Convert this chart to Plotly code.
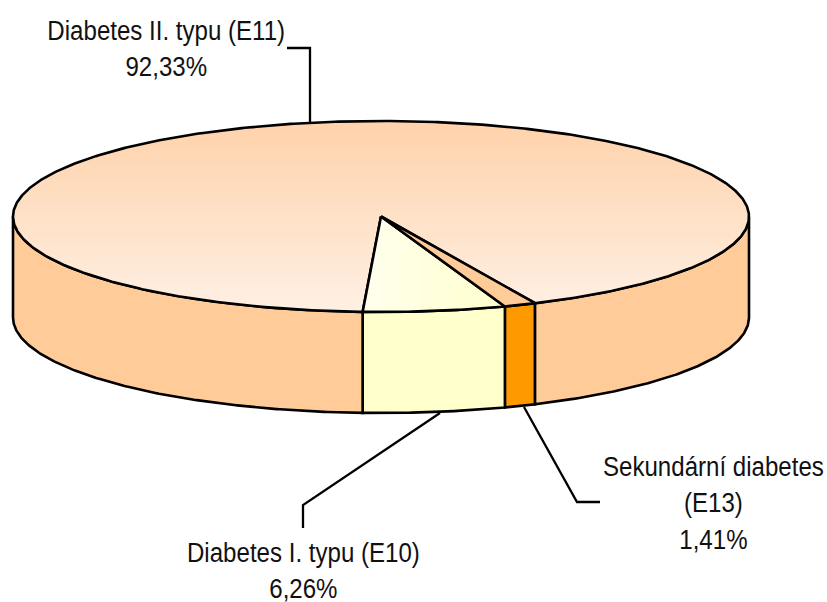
import numpy as np
import plotly.graph_objects as go

# Data, clockwise from the first slice's start angle
categories = ["Sekundární diabetes (E13)", "Diabetes I. typu (E10)", "Diabetes II. typu (E11)"]
label_lines = ["Sekundární diabetes<br>(E13)", "Diabetes I. typu (E10)", "Diabetes II. typu (E11)"]
values = [1.41, 6.26, 92.33]
side_colors = ["#FF9900", "#FFFFCC", "#FFCC99"]
top_scales = [
    ("vertical", [[0, "#FFCC99"], [1, "#FFCC99"]]),
    ("horizontal", [[0, "#FFFFEE"], [1, "#FFFFCC"]]),
    ("vertical", [[0, "#FEF0E4"], [1, "#FFD2AA"]]),
]

# Pie geometry (pixel space of the page)
CX, CY, RX, RY, DEPTH = 381, 216.5, 368, 95.5, 101
START_ANGLE = 155.25
LINE = dict(color="black", width=2.6)
FONT = dict(family="Liberation Sans, Arial", size=28, color="#111111")

label_pos = [(713, 503), (303, 570), (166, 48)]
leaders = [
    ([524, 577, 600], [407, 502, 502]),
    ([440, 303, 303], [413, 505, 528]),
    ([287, 310, 310], [48, 48, 122]),
]


def rim(t_deg):
    t = np.radians(t_deg)
    return CX + RX * np.sin(t), CY - RY * np.cos(t)


def arc(a, b):
    return np.linspace(a, b, max(3, int(abs(b - a) * 2)))


fig = go.Figure()

# Slice angles from the values
edges = START_ANGLE + np.cumsum([0] + values) * 3.6
spans = list(zip(edges[:-1], edges[1:]))

# Visible side walls: the front half of the rim (90..270 deg, plus wraps)
for (a, b), col in zip(spans, side_colors):
    for shift in (0, -360):
        lo, hi = max(a + shift, 90), min(b + shift, 270)
        if hi <= lo:
            continue
        x, y = rim(arc(lo, hi))
        px = np.concatenate([x, x[::-1], x[:1]])
        py = np.concatenate([y, y[::-1] + DEPTH, y[:1]])
        fig.add_trace(go.Scatter(x=px, y=py, mode="lines", fill="toself", fillcolor=col,
                                 line=LINE, hoverinfo="skip", showlegend=False))

# Top faces, largest first so small wedges sit on top
for i in [2, 1, 0]:
    a, b = spans[i]
    x, y = rim(arc(a, b))
    px = np.concatenate([[CX], x, [CX]])
    py = np.concatenate([[CY], y, [CY]])
    orient, scale = top_scales[i]
    fig.add_trace(go.Scatter(x=px, y=py, mode="lines", fill="toself",
                             fillgradient=dict(type=orient, colorscale=scale),
                             line=LINE, hoverinfo="skip", showlegend=False, name=categories[i]))

# Leader lines
for lx, ly in leaders:
    fig.add_trace(go.Scatter(x=lx, y=ly, mode="lines", line=dict(color="black", width=2.3),
                             hoverinfo="skip", showlegend=False))

# Labels
annotations = []
for txt, v, (ax, ay) in zip(label_lines, values, label_pos):
    annotations.append(dict(x=ax, y=ay, xref="x", yref="y", showarrow=False,
                            xanchor="center", yanchor="middle", align="center",
                            text=f"{txt}<br>{str(v).replace('.', ',')}%", font=FONT))

fig.update_layout(
    width=827, height=602, margin=dict(l=0, r=0, t=0, b=0),
    paper_bgcolor="white", plot_bgcolor="white", showlegend=False,
    xaxis=dict(range=[0, 827], visible=False, fixedrange=True),
    yaxis=dict(range=[602, 0], visible=False, fixedrange=True),
    annotations=annotations,
)
# Zero page margin; the reference labels are a horizontally narrowed Arial
post = """
document.body.style.margin='0';document.body.style.overflow='hidden';
document.querySelectorAll('.annotation-text').forEach(function(t){
  t.style.transformBox='fill-box';t.style.transformOrigin='center';t.style.transform='scaleX(0.86)';
});
"""
fig.write_html("out.html", config=dict(displayModeBar=False), post_script=post)
